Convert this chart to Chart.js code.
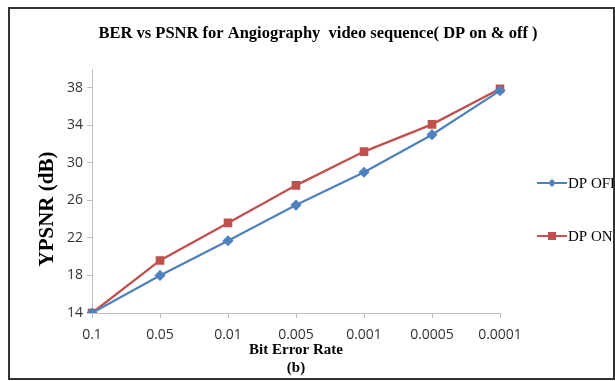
<!DOCTYPE html>
<html>
<head>
<meta charset="utf-8">
<script src="https://cdn.jsdelivr.net/npm/chart.js@4.4.1/dist/chart.umd.min.js"></script>
<style>
  body { margin: 0; background: #fff; }
  #wrap { position: absolute; left: 0; top: 0; width: 615px; height: 381px; }
  #frame { position: absolute; left: 8px; top: 7px; width: 603px; height: 369px; border: 2px solid #333; pointer-events: none; }
</style>
</head>
<body>
<div id="wrap"><canvas id="chart"></canvas></div>
<div id="frame"></div>
<script>
// data
const berLabels = ['0.1', '0.05', '0.01', '0.005', '0.001', '0.0005', '0.0001'];
const dpOff = [14, 18, 21.7, 25.5, 29.0, 33.0, 37.7];
const dpOn = [14, 19.6, 23.6, 27.6, 31.2, 34.1, 37.9];
const seriesNames = ['DP OFF', 'DP ON'];
const yTicks = [14, 18, 22, 26, 30, 34, 38];
const chartTitle = 'BER vs PSNR for Angiography  video sequence( DP on & off )';
const yTitle = 'YPSNR (dB)';

const blue = '#4F81BD';
const red = '#C0504D';

const ctx = document.getElementById('chart');

// title, y title and legend drawn by hand so they sit where the excel ones are
const extras = {
  id: 'extras',
  afterDraw(chart) {
    const c = chart.ctx;
    c.save();
    c.fillStyle = '#000';
    c.font = 'bold 16.5px "Liberation Serif"';
    c.textAlign = 'center';
    c.textBaseline = 'middle';
    c.fillText(chartTitle, 318, 34);
    c.translate(48, 209);
    c.rotate(-Math.PI / 2);
    c.font = 'bold 21px "Liberation Serif"';
    c.fillText(yTitle, 0, 0);
    c.restore();

    const x0 = chart.chartArea.right + 37;
    const rows = [183, 236];
    chart.data.datasets.forEach((ds, i) => {
      const y = rows[i];
      c.save();
      c.strokeStyle = ds.borderColor;
      c.lineWidth = 2;
      c.beginPath();
      c.moveTo(x0, y);
      c.lineTo(x0 + 30, y);
      c.stroke();
      c.fillStyle = ds.backgroundColor;
      const m = x0 + 15;
      if (ds.pointStyle == 'rect') {
        c.fillRect(m - 4, y - 4, 8, 8);
      } else {
        c.beginPath();
        c.moveTo(m, y - 4); c.lineTo(m + 4, y); c.lineTo(m, y + 4); c.lineTo(m - 4, y);
        c.closePath(); c.fill();
      }
      c.fillStyle = '#000';
      c.font = '15px "Liberation Serif"';
      c.textBaseline = 'middle';
      c.fillText(ds.label, x0 + 31, y + 1);
      c.restore();
    });
  }
};

new Chart(ctx, {
  type: 'line',
  data: {
    labels: berLabels,
    datasets: [{
      label: seriesNames[0],
      data: dpOff,
      borderColor: blue,
      backgroundColor: blue,
      borderWidth: 2.25,
      pointStyle: 'rectRot',
      pointRadius: 4,
      tension: 0
    }, {
      label: seriesNames[1],
      data: dpOn,
      borderColor: red,
      backgroundColor: red,
      borderWidth: 2.25,
      pointStyle: 'rect',
      pointRadius: 4.5,
      tension: 0
    }]
  },
  options: {
    responsive: true,
    maintainAspectRatio: false,
    animation: false,
    layout: { padding: { left: 0, right: 115, top: 69, bottom: 0 } },
    plugins: {
      legend: { display: false },
      tooltip: { enabled: false },
      title: { display: false }
    },
    scales: {
      x: {
        offset: false,
        grid: { display: true, drawOnChartArea: false, drawTicks: true, tickLength: 5, color: '#BFBFBF' },
        border: { color: '#BFBFBF', width: 1 },
        ticks: { color: '#333', font: { family: 'Open Sans', size: 14 }, padding: 9, maxRotation: 0 },
        title: {
          display: true,
          text: ['Bit Error Rate', '(b)'],
          color: '#000',
          font: { family: 'Liberation Serif', size: 15, weight: 'bold', lineHeight: 1.2 },
          padding: { top: 0, bottom: 4 }
        },
        afterFit(scale) { scale.height = 68; }
      },
      y: {
        min: 14,
        max: 40,
        grid: { display: true, drawOnChartArea: false, drawTicks: true, tickLength: 5, color: '#BFBFBF' },
        border: { color: '#BFBFBF', width: 1 },
        ticks: { color: '#333', font: { family: 'Open Sans', size: 14 }, padding: 4 },
        afterBuildTicks(scale) { scale.ticks = yTicks.map(v => ({ value: v })); },
        afterFit(scale) { scale.width = 92; }
      }
    }
  },
  plugins: [extras]
});
</script>
</body>
</html>
